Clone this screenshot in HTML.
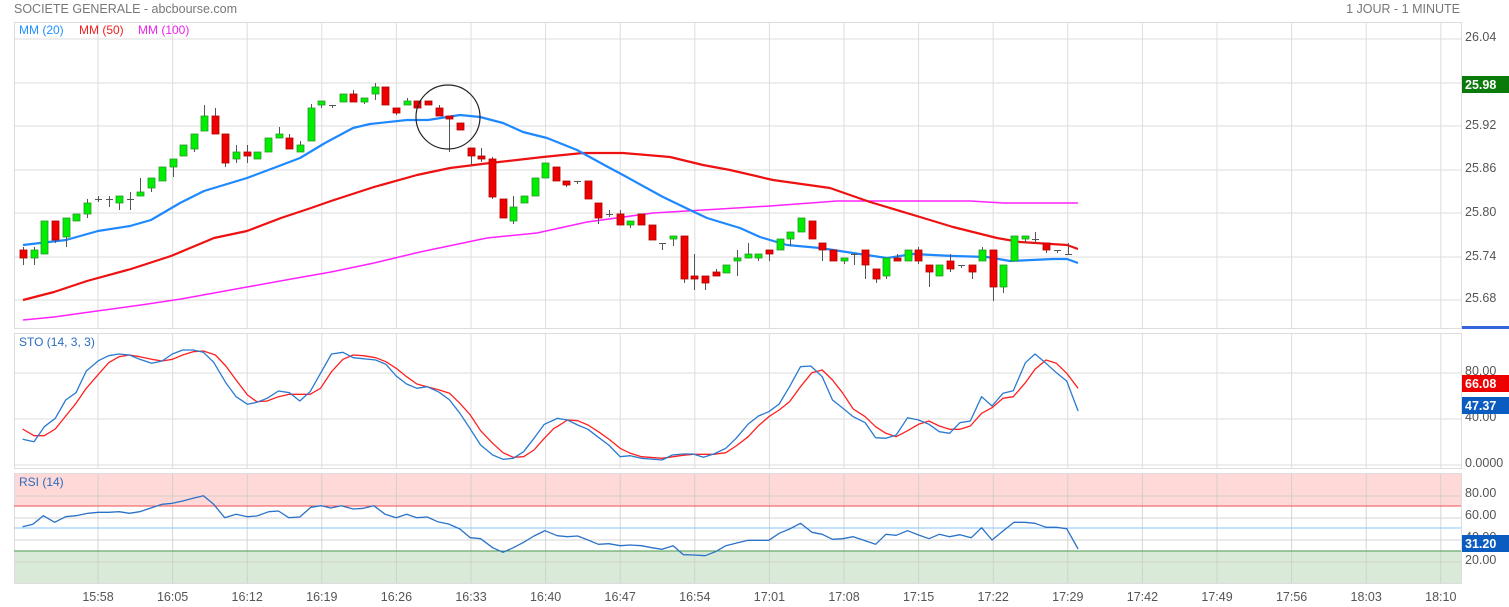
<!DOCTYPE html>
<html><head><meta charset="utf-8">
<style>
html,body{margin:0;padding:0;background:#fff;}
svg{display:block;font-family:"Liberation Sans",Arial,sans-serif;}
</style></head>
<body>
<svg id="s" width="1509" height="607" viewBox="0 0 1509 607" xmlns="http://www.w3.org/2000/svg"></svg>
<script>
const S=document.getElementById('s');
let h='';
function add(x){h+=x;}
// panels
add('<rect x="0" y="0" width="1509" height="607" fill="#fff"/>');
// RSI fills
add('<rect x="14" y="473" width="1447" height="33" fill="#ffd8d8"/>');
add('<rect x="14" y="551" width="1447" height="32" fill="#d9ead8"/>');
// vertical grid
const times=["15:58","16:05","16:12","16:19","16:26","16:33","16:40","16:47","16:54","17:01","17:08","17:15","17:22","17:29","17:42","17:49","17:56","18:03","18:10"];
for(let k=0;k<19;k++){const x=(98+74.6*k).toFixed(1);
 add(`<line x1="${x}" y1="22" x2="${x}" y2="328" stroke="#ddd"/>`);
 add(`<line x1="${x}" y1="333" x2="${x}" y2="468" stroke="#ddd"/>`);
 add(`<line x1="${x}" y1="473" x2="${x}" y2="583" stroke="#ccc" stroke-opacity="0.8"/>`);
 add(`<text x="${x}" y="601" font-size="12.5" fill="#555" text-anchor="middle">${times[k]}</text>`);
}
// horizontal grid main
[39,83,126,170,213,257,300].forEach(y=>add(`<line x1="14" y1="${y}" x2="1461" y2="${y}" stroke="#ddd"/>`));
[373,419,465].forEach(y=>add(`<line x1="14" y1="${y}" x2="1461" y2="${y}" stroke="#ddd"/>`));
[496,518,540,562].forEach(y=>add(`<line x1="14" y1="${y}" x2="1461" y2="${y}" stroke="#ccc" stroke-opacity="0.8"/>`));
// panel borders
add('<rect x="14.5" y="22.5" width="1447" height="306" fill="none" stroke="#ddd"/>');
add('<rect x="14.5" y="333.5" width="1447" height="135" fill="none" stroke="#ddd"/>');
add('<rect x="14.5" y="473.5" width="1447" height="110" fill="none" stroke="#ddd"/>');
add('<line x1="14" y1="506" x2="1461" y2="506" stroke="#f05050"/>');
add('<line x1="14" y1="528" x2="1461" y2="528" stroke="#88c4ff"/>');
add('<line x1="14" y1="551" x2="1461" y2="551" stroke="#4a9a4a"/>');
// header
add('<text x="14" y="13" font-size="12.5" fill="#777">SOCIETE GENERALE - abcbourse.com</text>');
add('<text x="1460" y="13" font-size="12.5" fill="#777" text-anchor="end">1 JOUR - 1 MINUTE</text>');
add('<text x="19" y="34" font-size="12" fill="#1e90ff">MM (20)</text>');
add('<text x="79" y="34" font-size="12" fill="#f02020">MM (50)</text>');
add('<text x="138" y="34" font-size="12" fill="#ee22ee">MM (100)</text>');
add('<text x="19" y="346" font-size="12" fill="#2a6cc0">STO (14, 3, 3)</text>');
add('<text x="19" y="486" font-size="12" fill="#2a6cc0">RSI (14)</text>');
// right axis
[["26.04",41],["25.92",129],["25.86",172],["25.80",216],["25.74",260],["25.68",302]].forEach(a=>add(`<text x="1465" y="${a[1]}" font-size="12.5" fill="#555">${a[0]}</text>`));
add('<rect x="1462" y="76" width="47" height="17" fill="#0a7a0a"/><text x="1465" y="89" font-size="12.5" font-weight="bold" fill="#fff">25.98</text>');
add('<rect x="1462" y="326" width="47" height="3" fill="#3366dd"/>');
[["80.00",375],["40.00",421],["0.0000",467],["80.00",497],["60.00",519],["40.00",541],["20.00",564]].forEach(a=>add(`<text x="1465" y="${a[1]}" font-size="12.5" fill="#555">${a[0]}</text>`));
add('<rect x="1462" y="375" width="47" height="17" fill="#ee0000"/><text x="1465" y="388" font-size="12.5" font-weight="bold" fill="#fff">66.08</text>');
add('<rect x="1462" y="397" width="47" height="17" fill="#0b5cc0"/><text x="1465" y="410" font-size="12.5" font-weight="bold" fill="#fff">47.37</text>');
add('<rect x="1462" y="535" width="47" height="17" fill="#0b5cc0"/><text x="1465" y="548" font-size="12.5" font-weight="bold" fill="#fff">31.20</text>');
function pl(pts,col,w){add(`<polyline points="${pts.map(p=>p[0].toFixed(1)+','+p[1].toFixed(1)).join(' ')}" fill="none" stroke="${col}" stroke-width="${w}" stroke-linejoin="round"/>`);}
// MA lines
pl([[23,320],[54,317],[97,311],[141,305],[181,299],[247,287],[297,278],[331,272],[374,263],[420,252],[487,238],[537,233],[587,222],[653,213],[720,209],[770,206],[837,201],[970,201],[1003,203],[1078,203]],"#ff22ff",1.5);
pl([[23,300],[54,292],[87,281],[131,269],[171,256],[214,238],[247,231],[281,218],[311,208],[331,201],[374,187],[417,175],[450,168],[490,163],[543,157],[583,153],[623,153],[670,157],[703,165],[730,170],[773,180],[830,188],[870,202],[920,217],[953,227],[997,238],[1020,242],[1067,245],[1078,249]],"#ee1111",2.2);
pl([[23,245],[66,240],[98,231],[130,226],[151,220],[180,203],[204,191],[247,178],[279,166],[300,158],[325,143],[353,128],[370,124],[407,120],[428,120],[460,115],[480,117],[503,123],[523,132],[547,138],[577,150],[608,167],[623,175],[663,197],[690,210],[707,218],[730,225],[740,228],[760,237],[787,245],[820,248],[853,253],[887,258],[913,254],[953,256],[987,257],[1010,261],[1053,259],[1067,259],[1078,263]],"#1e88ff",2.2);
// candles
const C=[[23,250,258,247,265,'r'],[34,250,258,247,265,'g'],[44,221,254,221,254,'g'],[55,221,240,221,243,'r'],[66,218,237,218,247,'g'],[76,214,221,214,221,'g'],[87,203,214,199,218,'g'],[98,199,199,196,202,'c'],[109,199,199,196,207,'c'],[119,196,203,196,210,'g'],[130,199,199,192,210,'c'],[140,192,196,178,196,'g'],[151,178,188,178,192,'g'],[162,167,181,167,181,'g'],[173,159,167,159,177,'g'],[183,145,156,145,156,'g'],[194,134,149,134,152,'g'],[204,116,131,105,131,'g'],[215,116,134,108,134,'r'],[225,134,163,134,167,'r'],[236,152,159,145,163,'g'],[247,152,156,145,163,'r'],[257,152,159,152,159,'g'],[268,138,152,138,152,'g'],[279,134,138,127,138,'g'],[289,138,149,134,149,'r'],[300,145,152,141,152,'g'],[311,108,141,104,141,'g'],[321,101,105,101,108,'g'],[332,105,105,105,108,'c'],[343,94,102,94,102,'g'],[353,94,102,90,102,'r'],[364,98,102,98,104,'g'],[375,87,94,83,100,'g'],[385,87,105,87,105,'r'],[396,108,113,108,115,'r'],[407,101,105,98,105,'g'],[417,101,108,101,108,'r'],[428,101,105,101,105,'r'],[439,108,116,105,116,'r'],[449,116,119,116,152,'r'],[460,123,130,123,130,'r'],[471,148,156,148,165,'r'],[481,156,159,148,162,'r'],[492,159,197,157,199,'r'],[503,199,218,199,218,'r'],[513,207,221,196,224,'g'],[524,196,203,196,203,'g'],[535,178,196,178,196,'g'],[545,163,178,163,178,'g'],[556,167,181,167,181,'r'],[566,181,185,181,187,'r'],[577,181,181,181,184,'c'],[588,181,199,181,199,'r'],[598,203,218,203,224,'r'],[609,214,214,210,217,'c'],[620,214,225,210,225,'r'],[630,221,225,221,228,'g'],[641,214,225,214,225,'r'],[652,225,240,225,240,'r'],[662,243,243,243,250,'c'],[673,236,239,236,246,'g'],[684,236,279,236,283,'r'],[694,276,279,254,290,'r'],[705,276,283,276,290,'r'],[716,272,276,269,276,'r'],[726,265,273,265,273,'g'],[737,258,261,250,276,'g'],[748,254,258,243,258,'g'],[758,254,258,254,261,'g'],[769,250,254,250,261,'r'],[780,239,250,239,250,'g'],[790,232,239,232,246,'g'],[801,218,232,218,232,'g'],[812,221,239,221,239,'r'],[822,243,250,243,261,'r'],[833,250,261,250,261,'r'],[844,258,261,258,264,'g'],[854,254,254,253,265,'c'],[865,250,265,250,279,'r'],[876,269,279,269,283,'r'],[886,258,276,258,279,'g'],[897,258,261,254,261,'r'],[908,250,261,250,261,'g'],[918,250,261,247,264,'r'],[929,265,272,265,287,'r'],[939,265,276,265,276,'g'],[950,261,269,254,272,'r'],[961,265,265,265,268,'c'],[972,265,272,265,279,'r'],[982,250,261,247,261,'g'],[993,250,287,250,301,'r'],[1003,265,287,265,293,'g'],[1014,236,261,236,261,'g'],[1025,236,239,236,243,'g'],[1035,239,239,232,243,'c'],[1046,243,250,243,253,'r'],[1057,250,250,250,253,'c'],[1068,254,254,243,254,'c']];
C.forEach(c=>{const[x,a,b,hi,lo,t]=c;const cx=x+0.5;
 add(`<line x1="${cx}" y1="${hi}" x2="${cx}" y2="${lo}" stroke="#555" stroke-width="1"/>`);
 if(t==='c'){add(`<line x1="${x-3}" y1="${a+0.5}" x2="${x+4}" y2="${a+0.5}" stroke="#555"/>`);}
 else{const hh=Math.max(b-a,3);add(`<rect x="${x-3}" y="${a}" width="7" height="${hh}" fill="${t==='g'?'#00ee00':'#ee0000'}" stroke="${t==='g'?'#2a9a2a':'#b00000'}" stroke-width="0.8"/>`);}
});
add('<circle cx="448" cy="117" r="32" fill="none" stroke="#222" stroke-width="1.2"/>');
// STO
const k=2.904;
function cv(arr,ox,oy){return arr.map(p=>[ox+p[0]/k,oy+p[1]/3]);}
const sb1=[[25,328],[58,335],[88,290],[120,265],[150,210],[180,188],[210,123],[245,92],[275,77],[305,72],[335,75],[365,88],[400,100],[430,93],[460,72],[490,60],[520,60],[550,67],[580,97],[615,158],[645,200],[678,223],[705,217],[735,205],[768,183],[800,188],[830,213],[860,185],[890,130],[922,72],[955,67],[985,83],[1050,90],[1080,103],[1110,138],[1140,162],[1170,175],[1200,170],[1235,187],[1265,210],[1295,250],[1325,297],[1355,345],[1390,375],[1420,388],[1450,385],[1480,365],[1510,325],[1540,283],[1568,270]];
const sr1=[[25,297],[58,317],[88,317],[120,297],[150,258],[180,220],[210,175],[245,133],[275,98],[305,80],[335,75],[365,80],[400,88],[430,93],[460,88],[490,75],[520,65],[550,63],[585,75],[615,108],[645,150],[678,195],[705,215],[735,213],[768,200],[800,193],[860,193],[890,175],[922,125],[955,88],[985,75],[1015,77],[1050,83],[1080,95],[1110,115],[1140,140],[1170,162],[1205,172],[1235,180],[1265,190],[1295,220],[1325,255],[1355,302],[1390,340],[1420,368],[1450,382],[1480,380],[1510,360],[1540,325],[1568,295]];
const sb2=[[35,265],[65,270],[95,285],[125,298],[155,322],[185,345],[218,380],[248,377],[280,385],[340,390],[370,375],[400,372],[430,372],[460,382],[490,372],[525,355],[555,325],[590,282],[620,258],[650,245],[680,222],[710,170],[742,110],[772,108],[805,140],[835,210],[865,235],[895,260],[930,278],[960,323],[990,325],[1020,315],[1053,263],[1085,270],[1115,283],[1145,305],[1175,310],[1205,278],[1235,273],[1268,200],[1298,228],[1330,190],[1360,182],[1395,98],[1423,72],[1455,100],[1485,128],[1515,153],[1548,243]];
const sr2=[[35,290],[65,270],[95,272],[125,285],[155,305],[185,327],[218,355],[248,370],[280,380],[340,385],[400,376],[430,373],[490,373],[525,368],[555,348],[590,320],[620,287],[650,260],[680,240],[710,215],[742,170],[775,128],[805,120],[835,150],[865,190],[895,237],[930,260],[960,290],[990,310],[1020,320],[1053,302],[1085,283],[1115,273],[1145,288],[1175,298],[1205,298],[1235,288],[1268,250],[1298,233],[1330,205],[1360,200],[1395,158],[1423,118],[1455,90],[1485,100],[1515,130],[1548,175]];
pl(cv(sr1,14,330).concat(cv(sr2,545,330)),"#ff2020",1.3);
pl(cv(sb1,14,330).concat(cv(sb2,545,330)),"#2a7ad0",1.3);
// RSI
const r1=[[25,170],[55,163],[85,137],[118,157],[150,140],[180,137],[215,130],[245,127],[275,127],[305,125],[335,130],[365,125],[400,113],[430,103],[460,100],[490,93],[520,85],[550,77],[580,103],[612,143],[645,133],[678,140],[705,138],[740,125],[768,123],[798,143],[830,141],[862,112],[892,107],[920,114],[950,107],[985,117],[1015,115],[1045,107],[1078,133],[1110,143],[1140,133],[1170,143],[1200,141],[1230,155],[1262,162],[1295,177],[1325,203],[1355,206],[1390,233],[1420,247],[1450,233],[1480,217],[1510,198],[1540,183]];
const r2=[[0,182],[35,197],[65,200],[95,198],[125,210],[155,223],[185,221],[218,227],[248,225],[280,227],[310,233],[340,238],[372,227],[402,254],[432,255],[465,257],[495,245],[525,227],[560,218],[590,211],[650,211],[680,190],[710,177],[742,160],[775,187],[805,193],[835,208],[865,206],[895,200],[930,212],[960,223],[990,193],[1020,196],[1053,182],[1085,195],[1115,206],[1145,193],[1175,200],[1205,194],[1238,203],[1268,173],[1298,210],[1330,183],[1362,157],[1392,157],[1423,160],[1455,172],[1485,172],[1515,176],[1548,237]];
pl(cv(r1,14,470).concat(cv(r2,545,470)),"#2a72c8",1.3);
S.innerHTML=h;
</script>
</body></html>
